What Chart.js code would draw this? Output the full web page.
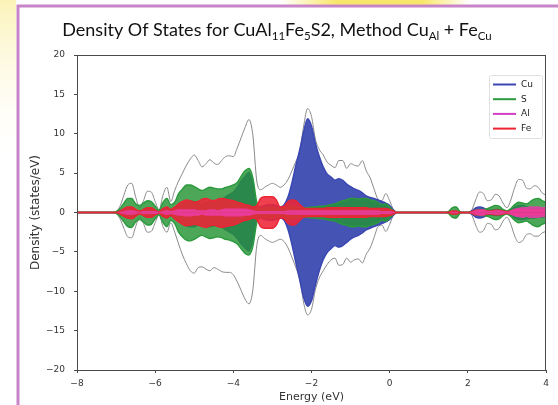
<!DOCTYPE html>
<html>
<head>
<meta charset="utf-8">
<title>Density Of States</title>
<script src="https://cdn.jsdelivr.net/npm/chart.js@4.4.1/dist/chart.umd.min.js"></script>
<style>
  body { margin: 0; background: #fff; }
  canvas { display: block; }
</style>
</head>
<body>
<canvas id="dosChart" width="558" height="405"></canvas>
<script>
// energy grid (eV); flat stretches are left out and drawn as straight zero lines
const energy = [-8,
  -7.1, -7.0, -6.9, -6.8, -6.7, -6.6, -6.5, -6.4, -6.3, -6.2,
  -6.1, -6.0, -5.9, -5.8, -5.7, -5.6, -5.5, -5.4, -5.3, -5.2,
  -5.1, -5.0, -4.9, -4.8, -4.7, -4.6, -4.5, -4.4, -4.3, -4.2,
  -4.1, -4.0, -3.9, -3.8, -3.7, -3.6, -3.5, -3.4, -3.3, -3.2,
  -3.1, -3.0, -2.9, -2.8, -2.7, -2.6, -2.5, -2.4, -2.3, -2.2,
  -2.1, -2.0, -1.9, -1.8, -1.7, -1.6, -1.5, -1.4, -1.3, -1.2,
  -1.1, -1.0, -0.9, -0.8, -0.7, -0.6, -0.5, -0.4, -0.3, -0.2,
  -0.1, 0.0, 0.1, 0.2, 0.3,
  1.4, 1.5, 1.6, 1.7, 1.8, 1.9, 2.0, 2.1, 2.2, 2.3,
  2.4, 2.5, 2.6, 2.7, 2.8, 2.9, 3.0, 3.1, 3.2, 3.3,
  3.4, 3.5, 3.6, 3.7, 3.8, 3.9, 4.0];

const totalUp = [0,
  0, 0.1, 0.8, 2.2, 3.5, 3.7, 2.0, 0.6, 1.5, 2.7,
  2.6, 1.4, 0.3, 2.2, 3.2, 1.4, 2.8, 4.0, 5.0, 6.0,
  6.8, 7.3, 6.6, 5.8, 6.2, 6.7, 6.3, 6.1, 6.6, 7.1,
  7.2, 7.1, 8.2, 9.5, 10.8, 11.8, 9.8, 4.0, 2.9, 3.2,
  3.5, 3.7, 3.5, 3.2, 3.5, 4.2, 5.3, 6.5, 7.8, 11.0,
  13.2, 12.2, 9.3, 8.0, 7.3, 6.4, 6.0, 5.7, 6.6, 6.6,
  5.6, 6.2, 6.0, 5.9, 6.6, 5.3, 4.4, 3.0, 1.7, 1.5,
  2.4, 1.5, 0.3, 0, 0,
  0, 0.1, 0.6, 0.7, 0.1, 0, 0, 0.3, 1.6, 2.6,
  2.4, 1.5, 1.6, 2.3, 2.1, 1.2, 0.6, 1.6, 3.2, 4.2,
  4.1, 3.1, 3.0, 3.4, 3.2, 2.5, 2.2];
const totalDown = [0,
  0, -0.1, -0.8, -2.0, -3.1, -3.2, -1.8, -0.6, -1.4, -2.5,
  -2.4, -1.3, -0.3, -1.8, -2.5, -1.3, -2.5, -4.0, -5.4, -6.5,
  -7.4, -7.7, -7.0, -6.9, -7.2, -7.4, -7.0, -7.2, -7.5, -7.6,
  -7.6, -7.9, -8.8, -9.9, -11.0, -11.6, -9.8, -4.2, -2.9, -3.3,
  -3.6, -3.8, -3.6, -3.4, -3.7, -4.5, -5.7, -7.0, -8.5, -11.5,
  -13.0, -12.3, -9.8, -8.3, -7.4, -6.6, -6.0, -5.8, -6.7, -6.6,
  -5.8, -6.3, -6.0, -5.9, -6.4, -5.3, -4.5, -3.2, -1.8, -1.6,
  -2.4, -1.5, -0.3, 0, 0,
  0, -0.1, -0.6, -0.7, -0.1, 0, 0, -0.3, -1.6, -2.5,
  -2.3, -1.4, -1.5, -2.2, -2.0, -1.1, -0.6, -1.5, -3.0, -3.8,
  -3.6, -2.8, -2.7, -3.0, -3.0, -2.6, -2.4];

const cuUp = [0,
  0, 0, 0.2, 0.4, 0.6, 0.6, 0.3, 0.1, 0.3, 0.5,
  0.5, 0.3, 0.1, 0.4, 0.6, 0.3, 0.6, 0.9, 1.1, 1.3,
  1.4, 1.4, 1.2, 1.0, 1.2, 1.4, 1.3, 1.3, 1.6, 2.0,
  2.3, 2.6, 3.2, 4.0, 4.6, 5.1, 3.6, 0.8, 0.7, 0.9,
  1.0, 1.0, 0.9, 0.7, 1.0, 2.0, 3.8, 6.0, 8.0, 10.3,
  11.9, 11.0, 8.8, 7.1, 5.8, 4.9, 4.5, 4.1, 4.3, 4.1,
  3.6, 3.3, 3.0, 2.8, 2.5, 2.1, 1.9, 1.8, 1.6, 1.4,
  1.2, 0.9, 0.3, 0, 0,
  0, 0, 0.1, 0.1, 0, 0, 0, 0.2, 0.6, 0.7,
  0.6, 0.3, 0.3, 0.4, 0.4, 0.2, 0.1, 0.3, 0.7, 0.9,
  0.9, 0.7, 0.6, 0.6, 0.6, 0.5, 0.5];
const cuDown = [0,
  0, 0, -0.2, -0.5, -0.7, -0.7, -0.4, -0.1, -0.4, -0.6,
  -0.6, -0.3, -0.1, -0.5, -0.7, -0.4, -0.8, -1.1, -1.4, -1.7,
  -1.8, -1.8, -1.6, -1.5, -1.6, -1.8, -1.7, -1.7, -1.9, -2.2,
  -2.5, -2.8, -3.3, -4.0, -4.5, -4.9, -3.4, -0.8, -0.7, -0.9,
  -1.0, -1.0, -0.9, -0.7, -1.0, -2.2, -4.1, -6.4, -8.6, -10.8,
  -11.9, -11.2, -9.2, -7.4, -6.0, -5.1, -4.6, -4.2, -4.4, -4.2,
  -3.8, -3.4, -3.1, -2.9, -2.6, -2.2, -2.0, -1.8, -1.6, -1.4,
  -1.2, -0.9, -0.3, 0, 0,
  0, 0, -0.1, -0.1, 0, 0, 0, -0.2, -0.6, -0.7,
  -0.6, -0.3, -0.3, -0.4, -0.4, -0.2, -0.1, -0.3, -0.7, -0.9,
  -0.9, -0.8, -0.7, -0.7, -0.6, -0.6, -0.5];

const sUp = [0,
  0, 0.1, 0.5, 1.2, 1.8, 1.8, 1.1, 0.9, 1.2, 1.5,
  1.4, 0.8, 0.3, 1.3, 1.8, 1.0, 1.3, 2.4, 3.0, 3.5,
  3.5, 3.3, 3.0, 2.8, 3.0, 3.2, 3.1, 3.0, 3.0, 3.2,
  3.3, 3.5, 3.8, 4.6, 5.3, 5.6, 4.4, 1.3, 0.5, 0.6,
  0.7, 0.7, 0.6, 0.5, 0.7, 0.9, 0.8, 0.7, 0.6, 0.6,
  0.6, 0.7, 0.7, 0.8, 0.8, 0.9, 1.0, 1.1, 1.3, 1.5,
  1.6, 1.8, 1.8, 1.7, 1.8, 1.8, 1.6, 1.5, 1.3, 1.0,
  1.1, 0.7, 0.2, 0, 0,
  0, 0.1, 0.6, 0.7, 0.1, 0, 0, 0.1, 0.3, 0.4,
  0.4, 0.5, 0.7, 0.9, 0.8, 0.4, 0.2, 0.5, 1.0, 1.3,
  1.2, 1.1, 1.4, 1.7, 1.8, 1.5, 1.3];
const sDown = [0,
  0, -0.1, -0.5, -1.2, -1.8, -1.9, -1.2, -0.9, -1.2, -1.6,
  -1.5, -0.8, -0.3, -1.3, -1.8, -1.0, -1.4, -2.5, -3.1, -3.5,
  -3.6, -3.4, -3.1, -2.9, -3.1, -3.3, -3.2, -3.1, -3.2, -3.4,
  -3.5, -3.7, -4.0, -4.6, -5.2, -5.4, -4.3, -1.3, -0.5, -0.6,
  -0.7, -0.7, -0.6, -0.5, -0.7, -0.9, -0.8, -0.7, -0.6, -0.6,
  -0.6, -0.7, -0.7, -0.8, -0.8, -0.9, -1.0, -1.1, -1.3, -1.5,
  -1.6, -1.8, -1.8, -1.7, -1.8, -1.8, -1.6, -1.5, -1.3, -1.0,
  -1.1, -0.7, -0.2, 0, 0,
  0, -0.1, -0.6, -0.7, -0.1, 0, 0, -0.1, -0.3, -0.4,
  -0.4, -0.5, -0.7, -0.9, -0.8, -0.4, -0.2, -0.5, -1.0, -1.3,
  -1.2, -1.1, -1.4, -1.7, -1.8, -1.5, -1.3];

const alUp = [0,
  0, 0, 0.1, 0.2, 0.3, 0.3, 0.2, 0.1, 0.2, 0.2,
  0.2, 0.2, 0.1, 0.2, 0.3, 0.2, 0.3, 0.4, 0.4, 0.4,
  0.4, 0.4, 0.3, 0.3, 0.3, 0.4, 0.4, 0.3, 0.4, 0.5,
  0.5, 0.5, 0.5, 0.5, 0.5, 0.4, 0.3, 0.2, 0.2, 0.2,
  0.2, 0.2, 0.2, 0.2, 0.2, 0.3, 0.3, 0.3, 0.3, 0.3,
  0.3, 0.3, 0.3, 0.3, 0.3, 0.3, 0.3, 0.3, 0.3, 0.3,
  0.3, 0.3, 0.3, 0.3, 0.3, 0.3, 0.3, 0.3, 0.3, 0.2,
  0.2, 0.2, 0.1, 0, 0,
  0, 0, 0.1, 0.1, 0, 0, 0, 0.1, 0.3, 0.4,
  0.4, 0.2, 0.2, 0.3, 0.3, 0.2, 0.1, 0.3, 0.5, 0.6,
  0.7, 0.7, 0.8, 0.8, 0.8, 0.7, 0.7];
const alDown = [0,
  0, 0, -0.1, -0.2, -0.3, -0.3, -0.2, -0.1, -0.2, -0.2,
  -0.2, -0.2, -0.1, -0.2, -0.3, -0.2, -0.3, -0.4, -0.4, -0.5,
  -0.5, -0.4, -0.4, -0.3, -0.4, -0.4, -0.4, -0.4, -0.4, -0.5,
  -0.5, -0.5, -0.5, -0.5, -0.4, -0.4, -0.3, -0.2, -0.2, -0.2,
  -0.2, -0.2, -0.2, -0.2, -0.2, -0.3, -0.3, -0.3, -0.3, -0.3,
  -0.3, -0.3, -0.3, -0.3, -0.3, -0.3, -0.3, -0.3, -0.3, -0.3,
  -0.3, -0.3, -0.3, -0.3, -0.3, -0.3, -0.3, -0.3, -0.3, -0.2,
  -0.2, -0.2, -0.1, 0, 0,
  0, 0, -0.1, -0.1, 0, 0, 0, -0.1, -0.3, -0.4,
  -0.4, -0.2, -0.2, -0.3, -0.3, -0.2, -0.1, -0.3, -0.5, -0.6,
  -0.7, -0.6, -0.7, -0.7, -0.7, -0.6, -0.6];

const feUp = [0,
  0, 0, 0.2, 0.5, 0.7, 0.7, 0.4, 0.2, 0.4, 0.6,
  0.6, 0.3, 0.1, 0.5, 0.7, 0.4, 0.7, 1.1, 1.4, 1.6,
  1.5, 1.3, 1.4, 1.7, 1.8, 1.6, 1.5, 1.7, 1.8, 1.7,
  1.6, 1.5, 1.3, 1.2, 1.0, 0.9, 0.7, 0.9, 1.8, 2.0,
  2.0, 2.0, 1.6, 0.7, 0.8, 1.4, 1.6, 1.5, 1.0, 0.6,
  0.5, 0.5, 0.5, 0.5, 0.5, 0.6, 0.6, 0.6, 0.6, 0.6,
  0.6, 0.6, 0.6, 0.6, 0.6, 0.6, 0.5, 0.5, 0.5, 0.5,
  0.5, 0.4, 0.2, 0, 0,
  0, 0, 0.2, 0.2, 0, 0, 0, 0.1, 0.3, 0.3,
  0.3, 0.2, 0.2, 0.3, 0.3, 0.2, 0.1, 0.2, 0.3, 0.4,
  0.4, 0.3, 0.3, 0.3, 0.3, 0.3, 0.3];
const feDown = [0,
  0, 0, -0.2, -0.5, -0.7, -0.8, -0.5, -0.2, -0.4, -0.6,
  -0.6, -0.3, -0.1, -0.5, -0.7, -0.4, -0.8, -1.2, -1.5, -1.7,
  -1.6, -1.5, -1.6, -1.8, -1.9, -1.7, -1.6, -1.8, -1.9, -1.8,
  -1.7, -1.6, -1.4, -1.2, -1.0, -0.9, -0.7, -0.9, -1.8, -2.0,
  -2.0, -2.0, -1.6, -0.7, -0.8, -1.4, -1.6, -1.5, -1.0, -0.6,
  -0.5, -0.5, -0.5, -0.5, -0.5, -0.6, -0.6, -0.6, -0.6, -0.6,
  -0.6, -0.6, -0.6, -0.6, -0.6, -0.6, -0.5, -0.5, -0.5, -0.5,
  -0.5, -0.4, -0.2, 0, 0,
  0, 0, -0.2, -0.2, 0, 0, 0, -0.1, -0.3, -0.3,
  -0.3, -0.2, -0.2, -0.3, -0.3, -0.2, -0.1, -0.2, -0.3, -0.4,
  -0.4, -0.3, -0.3, -0.3, -0.3, -0.3, -0.3];

const xTicks = [-8, -6, -4, -2, 0, 2, 4];
const yTicks = [-20, -15, -10, -5, 0, 5, 10, 15, 20];

function points(values) {
  return energy.map((e, i) => ({ x: e, y: values[i] }));
}

// one filled area per species and spin; higher order is painted first
function species(label, values, line, fill, order, width, inLegend) {
  return {
    label: label,
    data: points(values),
    borderColor: line,
    backgroundColor: fill,
    borderWidth: width,
    fill: "origin",
    pointRadius: 0,
    cubicInterpolationMode: "monotone",
    order: order,
    inLegend: inLegend,
  };
}

function total(values) {
  return {
    label: "Total",
    data: points(values),
    borderColor: "#8a8a8a",
    borderWidth: 1,
    fill: false,
    pointRadius: 0,
    cubicInterpolationMode: "monotone",
    order: 5,
    inLegend: false,
  };
}

const CU = "#3a46b2", S = "#2a9a3c", AL = "#d43cc4", FE = "#ec2434";

const datasets = [
  species("Cu", cuUp, CU, "rgba(58,74,176,0.95)", 4, 1.4, true),
  species("S", sUp, S, "rgba(38,148,52,0.82)", 3, 1.4, true),
  species("Al", alUp, AL, "rgba(240,60,170,0.85)", 1, 0, true),
  species("Fe", feUp, FE, "rgba(238,38,56,0.88)", 2, 1.4, true),
  species("Cu", cuDown, CU, "rgba(58,74,176,0.95)", 4, 1.4, false),
  species("S", sDown, S, "rgba(38,148,52,0.82)", 3, 1.4, false),
  species("Al", alDown, AL, "rgba(240,60,170,0.85)", 1, 0, false),
  species("Fe", feDown, FE, "rgba(238,38,56,0.88)", 2, 1.4, false),
  total(totalUp),
  total(totalDown),
];

function minusSign(v) {
  return String(v).replace("-", "\u2212");
}

const framePlugin = {
  id: "frame",
  beforeDraw(chart) {
    const ctx = chart.ctx;
    ctx.save();
    ctx.fillStyle = "#fff";
    ctx.fillRect(0, 0, chart.width, chart.height);
    // faint yellow glow outside the slide frame
    let g = ctx.createLinearGradient(0, 0, 0, 170);
    g.addColorStop(0, "rgba(250,238,160,0.75)");
    g.addColorStop(1, "rgba(255,255,255,0)");
    ctx.fillStyle = g;
    ctx.fillRect(0, 0, 16, 170);
    g = ctx.createLinearGradient(280, 0, 470, 0);
    g.addColorStop(0, "rgba(248,228,90,0)");
    g.addColorStop(0.3, "rgba(248,228,90,0.9)");
    g.addColorStop(0.75, "rgba(248,228,90,0.9)");
    g.addColorStop(1, "rgba(248,228,90,0)");
    ctx.fillStyle = g;
    ctx.fillRect(280, 0, 190, 5);
    // purple slide border
    ctx.strokeStyle = "#c884c8";
    ctx.lineWidth = 3;
    ctx.beginPath();
    ctx.moveTo(18, chart.height);
    ctx.lineTo(18, 6);
    ctx.lineTo(chart.width, 6);
    ctx.stroke();
    ctx.restore();
  },
  afterDraw(chart) {
    const ctx = chart.ctx;
    const a = chart.chartArea;
    ctx.save();
    ctx.strokeStyle = "#4a4a4a";
    ctx.lineWidth = 1;
    ctx.strokeRect(a.left + 0.5, a.top + 0.5, a.right - a.left - 1, a.bottom - a.top);

    // title with subscripts
    const parts = [
      ["Density Of States for CuAl", false], ["11", true], ["Fe", false], ["5", true],
      ["S2, Method Cu", false], ["Al", true], [" + Fe", false], ["Cu", true],
    ];
    const big = "18px Lato", small = "11.5px Lato";
    let width = 0;
    parts.forEach(([t, sub]) => {
      ctx.font = sub ? small : big;
      width += ctx.measureText(t).width;
    });
    let x = 277 - width / 2;
    ctx.fillStyle = "#111";
    ctx.textBaseline = "alphabetic";
    parts.forEach(([t, sub]) => {
      ctx.font = sub ? small : big;
      ctx.fillText(t, x, sub ? 40 : 36);
      x += ctx.measureText(t).width;
    });

    // legend box in the upper right corner
    const items = chart.data.datasets.filter((d) => d.inLegend);
    const bx = a.right - 57, by = a.top + 20, bw = 53, bh = 63;
    ctx.fillStyle = "rgba(255,255,255,0.8)";
    ctx.strokeStyle = "#e0e0e0";
    ctx.beginPath();
    ctx.roundRect(bx + 0.5, by + 0.5, bw, bh, 2);
    ctx.fill();
    ctx.stroke();
    ctx.font = "9px 'DejaVu Sans'";
    ctx.textBaseline = "middle";
    items.forEach((d, i) => {
      const y = by + 9.5 + i * 14.7;
      ctx.strokeStyle = d.borderColor;
      ctx.lineWidth = 2;
      ctx.beginPath();
      ctx.moveTo(bx + 4, y);
      ctx.lineTo(bx + 27, y);
      ctx.stroke();
      ctx.fillStyle = "#222";
      ctx.fillText(d.label, bx + 32, y);
    });
    ctx.restore();
  },
};

const tickFont = { family: "DejaVu Sans", size: 9 };

const config = {
  type: "line",
  data: { datasets: datasets },
  options: {
    responsive: false,
    animation: false,
    devicePixelRatio: 1,
    layout: { padding: { left: 22, top: 55, right: 12, bottom: 0 } },
    plugins: {
      legend: { display: false },
      tooltip: { enabled: false },
      title: { display: false },
    },
    scales: {
      x: {
        type: "linear",
        min: -8,
        max: 4,
        afterFit: (scale) => { scale.height = 35; },
        afterBuildTicks: (scale) => { scale.ticks = xTicks.map((v) => ({ value: v })); },
        grid: { drawOnChartArea: false, drawTicks: true, tickLength: 3, color: "#4a4a4a" },
        border: { display: false },
        ticks: { font: tickFont, color: "#333", padding: 5, callback: minusSign },
        title: {
          display: true,
          text: "Energy (eV)",
          font: { family: "DejaVu Sans", size: 11 },
          color: "#333",
          padding: { top: 0, bottom: 1 },
        },
      },
      y: {
        type: "linear",
        min: -20,
        max: 20,
        afterFit: (scale) => { scale.width = 55; },
        afterBuildTicks: (scale) => { scale.ticks = yTicks.map((v) => ({ value: v })); },
        grid: { drawOnChartArea: false, drawTicks: true, tickLength: 3, color: "#4a4a4a" },
        border: { display: false },
        ticks: { font: tickFont, color: "#333", padding: 9, callback: minusSign },
        title: {
          display: true,
          text: "Density (states/eV)",
          font: { family: "DejaVu Sans", size: 12 },
          color: "#333",
          padding: { top: 7, bottom: 0 },
        },
      },
    },
  },
  plugins: [framePlugin],
};

const dosChart = new Chart(document.getElementById("dosChart"), config);
</script>
</body>
</html>
